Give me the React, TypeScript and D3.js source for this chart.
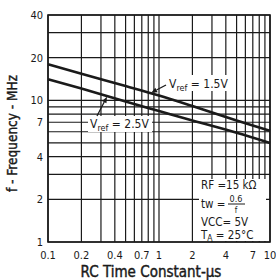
import React from "react";
import * as d3 from "d3";

// RC time constant (us) vs frequency (MHz)
const rcValues = [0.1, 0.2, 0.5, 1, 2, 5, 10];
const vref15 = [18, 15.4, 12.6, 10.8, 9.1, 7.2, 6.1];
const vref25 = [14.1, 12.1, 9.8, 8.4, 7.2, 5.9, 5.0];

const xTicks = [0.1, 0.2, 0.4, 0.7, 1, 2, 4, 7, 10];
const yTicks = [1, 2, 4, 7, 10, 20, 40];
const xGrid = [0.1, 0.2, 0.3, 0.4, 0.5, 0.6, 0.7, 0.8, 0.9, 1, 2, 3, 4, 5, 6, 7, 8, 9, 10];
const yGrid = [1, 2, 3, 4, 5, 6, 7, 8, 9, 10, 20, 30, 40];

const W = 276;
const H = 280;
const m = { top: 15, right: 6, bottom: 38, left: 48 };
const font = "'DejaVu Sans', sans-serif";
const ink = "#1a1a1a";

export default function App() {
  const x = d3.scaleLog().domain([0.1, 10]).range([m.left, W - m.right]);
  const y = d3.scaleLog().domain([1, 40]).range([H - m.bottom, m.top]);

  const line = d3
    .line<number>()
    .x((d, i) => x(rcValues[i]))
    .y((d) => y(d))
    .curve(d3.curveMonotoneX);

  const arrow = (x1: number, y1: number, x2: number, y2: number) => {
    const a = Math.atan2(y2 - y1, x2 - x1);
    const L = 6, w = 2.5;
    const bx = x2 - L * Math.cos(a), by = y2 - L * Math.sin(a);
    const p = [
      [x2, y2],
      [bx + w * Math.sin(a), by - w * Math.cos(a)],
      [bx - w * Math.sin(a), by + w * Math.cos(a)],
    ];
    return (
      <g>
        <line x1={x1} y1={y1} x2={bx} y2={by} stroke={ink} strokeWidth={1.3} />
        <polygon points={p.map((q) => q.join(",")).join(" ")} fill={ink} />
      </g>
    );
  };

  return (
    <svg
      width={W}
      height={H}
      style={{ position: "absolute", left: 0, top: 0, background: "#fff" }}
      fontFamily={font}
      fontStretch="condensed"
    >
      <rect width={W} height={H} fill="#fff" />
      {/* grid */}
      {xGrid.map((v) => (
        <line key={"gx" + v} x1={x(v)} x2={x(v)} y1={y(1)} y2={y(40)} stroke={ink} strokeWidth={1.2} />
      ))}
      {yGrid.map((v) => (
        <line key={"gy" + v} x1={x(0.1)} x2={x(10)} y1={y(v)} y2={y(v)} stroke={ink} strokeWidth={1.2} />
      ))}
      <rect x={x(0.1)} y={y(40)} width={x(10) - x(0.1)} height={y(1) - y(40)} fill="none" stroke={ink} strokeWidth={1.6} />

      {/* curves */}
      <path d={line(vref15) || ""} fill="none" stroke={ink} strokeWidth={2.6} />
      <path d={line(vref25) || ""} fill="none" stroke={ink} strokeWidth={2.6} />

      {/* Vref = 1.5V label */}
      <rect x={167} y={75} width={63} height={16} fill="#fff" />
      <text x={169} y={88} fontSize={12} fill={ink}>
        V<tspan fontSize={9} dy={3}>ref</tspan>
        <tspan dy={-3}> = 1.5V</tspan>
      </text>
      {arrow(166, 85, x(0.85), y(11.3))}

      {/* Vref = 2.5V label */}
      <rect x={88} y={116} width={64} height={16} fill="#fff" />
      <text x={90} y={128} fontSize={12} fill={ink}>
        V<tspan fontSize={9} dy={3}>ref</tspan>
        <tspan dy={-3}> = 2.5V</tspan>
      </text>
      {arrow(97, 116, x(0.34), y(10.6))}

      {/* conditions box */}
      <rect x={199} y={179} width={67} height={62} fill="#fff" />
      <g fontSize={11.5} fill={ink}>
        <text x={201} y={189}>RF  =15 kΩ</text>
        <text x={201} y={208}>tw  =</text>
        <text x={236} y={202} textAnchor="middle" fontSize={9}>0.6</text>
        <line x1={228} x2={245} y1={204} y2={204} stroke={ink} strokeWidth={1} />
        <text x={236} y={213} textAnchor="middle" fontSize={8}>f</text>
        <text x={201} y={226}>VCC= 5V</text>
        <text x={201} y={239}>
          T<tspan fontSize={8.5} dy={2}>A</tspan>
          <tspan dy={-2}> = 25°C</tspan>
        </text>
      </g>

      {/* axis tick labels */}
      {xTicks.map((v) => (
        <text key={"xt" + v} x={x(v)} y={H - m.bottom + 17} textAnchor="middle" fontSize={11} fill={ink}>
          {v}
        </text>
      ))}
      {yTicks.map((v) => (
        <text key={"yt" + v} x={m.left - 5} y={y(v) + 4} textAnchor="end" fontSize={11} fill={ink}>
          {v}
        </text>
      ))}

      {/* axis titles */}
      <text
        x={(x(0.1) + x(10)) / 2 - 8}
        y={H - 3}
        textAnchor="middle"
        fontSize={15}
        fill={ink}
        stroke={ink}
        strokeWidth={0.4}
      >
        RC Time Constant-μs
      </text>
      <text
        transform={`translate(17,${(y(1) + y(40)) / 2 + 5}) rotate(-90)`}
        textAnchor="middle"
        fontSize={13.5}
        fill={ink}
        stroke={ink}
        strokeWidth={0.4}
      >
        f - Frequency - MHz
      </text>
    </svg>
  );
}
